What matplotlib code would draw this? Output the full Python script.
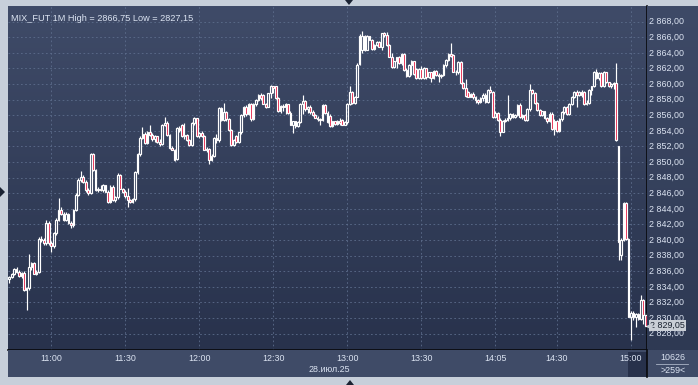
import numpy as np
import pandas as pd
import matplotlib
matplotlib.use("Agg")
import matplotlib.pyplot as plt
from matplotlib.colors import LinearSegmentedColormap
from matplotlib.patches import Polygon, Rectangle
from matplotlib.transforms import blended_transform_factory

plt.rcParams['font.family'] = ['Liberation Sans', 'DejaVu Sans']

# --- data -------------------------------------------------------------
ticker = "MIX_FUT 1M"
date_label = "28.июл.25"
volume_label = "10626"
bars_label = ">259<"
sessions = [("10:43", "13:59"), ("14:05", "15:06")]   # 14:00-14:05 clearing
tick_labels = ["11:00", "11:30", "12:00", "12:30", "13:00",
               "13:30", "14:05", "14:30", "15:00"]
price_ticks = np.arange(2828, 2869, 2)

opens = [
    2835.0, 2835.3, 2835.7, 2836.3, 2835.9, 2835.4, 2835.8, 2833.6, 2833.8, 2836.6,
    2837.0, 2835.7, 2835.9, 2840.2, 2840.0, 2839.6, 2842.2, 2839.6, 2839.2, 2840.9,
    2842.6, 2843.9, 2843.4, 2842.6, 2843.4, 2842.2, 2841.9, 2843.9, 2845.8, 2847.7,
    2848.1, 2847.5, 2846.4, 2846.0, 2851.0, 2849.0, 2846.4, 2846.6, 2846.4, 2847.0,
    2846.2, 2844.9, 2846.8, 2845.1, 2845.5, 2848.4, 2846.6, 2846.2, 2845.6, 2845.1,
    2844.9, 2845.2, 2848.7, 2851.0, 2853.1, 2853.6, 2852.4, 2853.9, 2853.5, 2853.0,
    2853.3, 2852.6, 2852.3, 2854.8, 2855.0, 2853.5, 2851.8, 2851.6, 2850.4, 2854.3,
    2854.8, 2853.3, 2853.5, 2852.8, 2852.2, 2855.0, 2855.6, 2853.3, 2853.7, 2853.4,
    2851.6, 2851.7, 2850.3, 2850.8, 2853.1, 2852.8, 2856.9, 2855.4, 2856.4, 2855.5,
    2854.1, 2852.2, 2853.4, 2852.6, 2853.8, 2856.0, 2857.1, 2856.2, 2857.5, 2855.5,
    2857.4, 2858.0, 2858.6, 2858.6, 2857.5, 2857.1, 2858.8, 2859.7, 2859.7, 2858.2,
    2856.5, 2857.2, 2857.0, 2857.4, 2856.3, 2854.8, 2855.2, 2854.6, 2855.1, 2857.5,
    2857.8, 2856.8, 2857.1, 2856.4, 2856.0, 2855.6, 2855.5, 2855.4, 2857.3, 2856.3,
    2855.9, 2854.6, 2855.2, 2854.9, 2855.3, 2855.4, 2854.8, 2855.1, 2857.5, 2859.0,
    2857.6, 2858.4, 2862.6, 2864.3, 2866.1, 2864.4, 2866.1, 2865.7, 2864.5, 2865.0,
    2865.4, 2864.8, 2866.5, 2866.3, 2865.0, 2863.5, 2862.2, 2862.9, 2863.4, 2862.7,
    2863.9, 2861.8, 2861.0, 2862.5, 2862.9, 2861.9, 2860.8, 2861.9, 2860.8, 2862.0,
    2860.9, 2861.5, 2860.8, 2861.7, 2861.1, 2861.0, 2861.2, 2862.5, 2863.1, 2863.9,
    2863.7, 2861.6, 2861.5, 2862.8, 2860.1, 2859.5, 2859.0, 2858.4, 2858.7, 2858.3,
    2858.0, 2857.7, 2858.2, 2858.6, 2857.7, 2859.2, 2859.0, 2855.8, 2856.3, 2855.4,
    2853.9, 2855.2, 2855.4, 2855.6, 2856.2, 2855.8, 2856.0, 2857.3, 2855.8, 2856.0,
    2855.4, 2856.8, 2859.2, 2858.9, 2857.6, 2856.7, 2856.0, 2856.5, 2855.6, 2855.2,
    2856.2, 2854.2, 2855.3, 2854.0, 2855.5, 2856.4, 2857.1, 2856.1, 2857.5, 2858.3,
    2859.0, 2858.6, 2859.0, 2859.0, 2857.4, 2857.6, 2859.2, 2859.7, 2861.6, 2860.8,
    2861.4, 2859.7, 2861.5, 2860.2, 2859.7, 2860.0, 2860.1, 2852.0, 2838.1, 2840.0,
    2844.7, 2840.2, 2830.2, 2830.6, 2830.2, 2830.5, 2829.9, 2832.3, 2830.4,
]
highs = [
    2835.4, 2835.8, 2836.4, 2836.5, 2836.1, 2835.9, 2836.0, 2834.0, 2838.2, 2837.2,
    2837.2, 2836.1, 2840.4, 2840.5, 2840.3, 2842.6, 2842.4, 2839.9, 2841.0, 2842.8,
    2845.4, 2844.2, 2843.6, 2843.6, 2843.5, 2842.4, 2844.0, 2846.0, 2848.0, 2848.8,
    2848.3, 2847.7, 2846.7, 2851.2, 2851.1, 2849.1, 2846.8, 2847.1, 2847.2, 2847.1,
    2846.4, 2847.0, 2847.0, 2845.7, 2848.6, 2848.5, 2846.7, 2846.4, 2846.7, 2845.3,
    2845.4, 2848.9, 2851.2, 2853.3, 2854.5, 2853.8, 2854.0, 2854.8, 2853.7, 2853.5,
    2853.4, 2852.9, 2854.9, 2855.8, 2855.2, 2853.6, 2852.0, 2851.7, 2854.5, 2854.6,
    2854.9, 2855.0, 2853.6, 2852.9, 2855.1, 2855.8, 2855.7, 2853.9, 2854.0, 2853.5,
    2851.9, 2851.8, 2851.0, 2853.2, 2853.6, 2857.0, 2857.0, 2857.6, 2856.6, 2855.6,
    2854.2, 2853.0, 2853.5, 2853.9, 2856.1, 2857.2, 2857.3, 2857.6, 2857.6, 2857.6,
    2858.1, 2858.7, 2858.8, 2858.7, 2857.6, 2858.9, 2859.9, 2859.8, 2859.8, 2858.3,
    2857.3, 2857.5, 2857.6, 2857.5, 2856.5, 2855.3, 2855.3, 2855.3, 2857.6, 2858.6,
    2857.9, 2857.2, 2857.3, 2856.7, 2856.1, 2855.9, 2855.6, 2857.4, 2857.4, 2856.5,
    2856.1, 2855.3, 2855.3, 2855.4, 2855.6, 2855.5, 2855.2, 2857.6, 2859.7, 2859.1,
    2858.5, 2862.7, 2866.4, 2866.75, 2866.3, 2866.3, 2866.2, 2865.8, 2865.1, 2865.5,
    2865.5, 2866.6, 2866.7, 2866.7, 2865.1, 2864.0, 2863.0, 2863.5, 2863.6, 2864.0,
    2864.0, 2862.0, 2862.6, 2863.1, 2863.0, 2862.1, 2862.0, 2862.3, 2862.2, 2862.1,
    2861.6, 2861.6, 2861.8, 2861.8, 2861.4, 2861.3, 2862.6, 2863.2, 2864.0, 2865.2,
    2863.9, 2861.8, 2862.9, 2862.9, 2860.3, 2860.7, 2859.1, 2858.8, 2859.0, 2858.5,
    2858.1, 2858.3, 2858.8, 2858.8, 2859.3, 2859.7, 2859.1, 2856.5, 2856.4, 2855.6,
    2855.4, 2855.6, 2858.6, 2856.3, 2856.3, 2856.1, 2857.4, 2857.6, 2856.1, 2856.1,
    2856.9, 2860.0, 2859.4, 2859.0, 2857.7, 2856.8, 2856.6, 2856.6, 2855.8, 2856.4,
    2856.4, 2855.5, 2855.4, 2855.6, 2856.5, 2857.2, 2857.2, 2857.6, 2858.5, 2859.1,
    2859.2, 2859.1, 2859.2, 2859.1, 2858.0, 2859.3, 2859.8, 2861.7, 2861.9, 2861.5,
    2861.5, 2861.7, 2861.6, 2860.3, 2860.1, 2860.2, 2862.7, 2852.1, 2840.3, 2844.9,
    2844.9, 2840.3, 2830.9, 2830.9, 2830.7, 2830.6, 2833.0, 2832.5, 2830.7,
]
lows = [
    2834.5, 2835.1, 2835.5, 2835.8, 2835.3, 2835.2, 2833.5, 2831.1, 2833.6, 2836.2,
    2835.6, 2835.5, 2835.8, 2839.8, 2839.4, 2839.4, 2839.4, 2838.5, 2839.0, 2840.7,
    2842.4, 2843.2, 2842.5, 2842.4, 2842.1, 2841.5, 2841.7, 2843.7, 2845.6, 2847.5,
    2847.3, 2846.2, 2845.8, 2845.9, 2848.9, 2846.3, 2846.2, 2846.3, 2846.2, 2846.1,
    2844.8, 2844.8, 2845.0, 2844.9, 2845.3, 2846.5, 2846.0, 2845.4, 2844.2, 2844.8,
    2844.8, 2845.0, 2848.5, 2850.8, 2852.9, 2852.3, 2852.3, 2853.4, 2852.7, 2852.6,
    2852.4, 2852.1, 2852.2, 2854.6, 2853.4, 2851.7, 2851.5, 2850.1, 2850.3, 2853.9,
    2853.2, 2853.0, 2852.7, 2852.1, 2852.0, 2854.8, 2853.2, 2853.1, 2853.2, 2851.5,
    2851.3, 2849.8, 2850.1, 2850.7, 2852.5, 2852.6, 2855.3, 2855.3, 2855.3, 2854.0,
    2852.1, 2852.1, 2852.5, 2852.5, 2853.6, 2855.8, 2855.9, 2856.0, 2855.2, 2855.4,
    2857.2, 2857.8, 2857.9, 2857.4, 2856.9, 2857.0, 2858.2, 2858.9, 2858.1, 2856.4,
    2856.3, 2856.5, 2856.2, 2856.2, 2854.7, 2853.7, 2854.4, 2854.5, 2855.0, 2856.2,
    2856.6, 2856.3, 2856.2, 2855.9, 2855.6, 2855.2, 2854.7, 2855.3, 2856.2, 2855.0,
    2854.5, 2854.5, 2854.7, 2854.8, 2854.8, 2854.7, 2854.7, 2854.9, 2857.3, 2857.5,
    2857.4, 2858.3, 2862.5, 2864.0, 2864.2, 2864.3, 2865.6, 2864.4, 2864.3, 2864.9,
    2864.7, 2864.4, 2866.0, 2864.9, 2863.4, 2862.1, 2862.0, 2862.1, 2862.6, 2862.5,
    2861.7, 2860.9, 2860.9, 2861.1, 2861.2, 2860.6, 2860.6, 2860.7, 2860.7, 2860.7,
    2860.8, 2860.3, 2860.7, 2861.0, 2860.3, 2860.8, 2861.0, 2862.2, 2862.9, 2863.4,
    2861.5, 2861.2, 2861.3, 2860.0, 2859.4, 2858.3, 2858.3, 2858.3, 2858.1, 2857.6,
    2857.5, 2857.6, 2857.8, 2857.6, 2857.6, 2858.9, 2855.7, 2855.6, 2855.3, 2853.3,
    2853.8, 2855.1, 2855.3, 2855.4, 2855.6, 2855.7, 2855.9, 2855.7, 2855.5, 2855.3,
    2855.3, 2856.6, 2858.7, 2857.5, 2856.6, 2855.9, 2855.9, 2855.5, 2855.0, 2855.1,
    2854.1, 2853.5, 2853.9, 2853.9, 2855.3, 2856.2, 2856.0, 2856.0, 2857.3, 2858.2,
    2857.1, 2858.5, 2858.4, 2857.3, 2857.3, 2857.4, 2858.6, 2859.6, 2860.7, 2860.5,
    2859.6, 2859.6, 2860.1, 2859.6, 2859.5, 2859.4, 2852.7, 2837.4, 2837.4, 2839.9,
    2840.0, 2830.1, 2827.15, 2829.8, 2828.9, 2829.8, 2829.8, 2829.2, 2828.8,
]
closes = [
    2835.3, 2835.7, 2836.3, 2835.9, 2835.4, 2835.8, 2833.6, 2833.8, 2836.6, 2837.0,
    2835.7, 2835.9, 2840.2, 2840.0, 2839.6, 2842.2, 2839.6, 2839.2, 2840.9, 2842.6,
    2843.9, 2843.4, 2842.6, 2843.4, 2842.2, 2841.9, 2843.9, 2845.8, 2847.7, 2848.1,
    2847.5, 2846.4, 2846.0, 2851.0, 2849.0, 2846.4, 2846.6, 2846.4, 2847.0, 2846.2,
    2844.9, 2846.8, 2845.1, 2845.5, 2848.4, 2846.6, 2846.2, 2845.6, 2845.1, 2844.9,
    2845.2, 2848.7, 2851.0, 2853.1, 2853.6, 2852.4, 2853.9, 2853.5, 2853.0, 2853.3,
    2852.6, 2852.3, 2854.8, 2855.0, 2853.5, 2851.8, 2851.6, 2850.3, 2854.3, 2854.1,
    2853.3, 2853.5, 2852.8, 2852.2, 2855.0, 2855.6, 2853.3, 2853.7, 2853.4, 2851.6,
    2851.7, 2850.3, 2850.8, 2853.1, 2852.8, 2856.9, 2855.4, 2856.4, 2855.5, 2854.1,
    2852.2, 2852.8, 2852.6, 2853.8, 2856.0, 2857.1, 2856.2, 2857.5, 2855.5, 2857.4,
    2858.0, 2858.6, 2858.2, 2857.5, 2857.1, 2858.8, 2859.7, 2859.5, 2858.2, 2856.5,
    2857.2, 2857.0, 2857.4, 2856.3, 2854.8, 2855.2, 2854.6, 2855.1, 2857.5, 2857.8,
    2856.8, 2857.1, 2856.4, 2856.0, 2855.7, 2855.5, 2855.4, 2857.3, 2856.3, 2855.1,
    2854.6, 2855.2, 2854.9, 2855.3, 2855.0, 2854.8, 2855.1, 2857.5, 2859.0, 2857.6,
    2858.4, 2862.5, 2866.2, 2866.1, 2864.4, 2866.1, 2865.7, 2864.5, 2865.0, 2865.4,
    2864.8, 2866.5, 2866.3, 2865.0, 2863.5, 2862.2, 2862.9, 2863.4, 2862.7, 2863.9,
    2861.8, 2861.0, 2862.5, 2862.9, 2861.3, 2860.8, 2861.9, 2860.8, 2862.0, 2860.9,
    2861.5, 2860.8, 2861.7, 2861.1, 2861.0, 2861.2, 2862.5, 2863.1, 2863.9, 2863.6,
    2861.6, 2861.5, 2862.8, 2860.1, 2859.5, 2858.5, 2858.4, 2858.7, 2858.3, 2858.0,
    2857.7, 2858.2, 2858.6, 2857.7, 2859.2, 2859.0, 2855.8, 2856.3, 2855.4, 2853.9,
    2855.2, 2855.4, 2855.6, 2856.2, 2855.8, 2856.0, 2857.3, 2855.8, 2856.0, 2855.4,
    2856.8, 2859.2, 2858.9, 2857.6, 2856.7, 2856.0, 2856.5, 2855.6, 2855.2, 2856.2,
    2854.2, 2855.2, 2854.0, 2855.5, 2856.4, 2857.0, 2856.1, 2857.5, 2858.3, 2859.0,
    2858.6, 2859.0, 2858.6, 2857.4, 2857.6, 2859.2, 2859.7, 2861.6, 2860.8, 2861.4,
    2859.7, 2861.5, 2860.2, 2859.7, 2860.0, 2860.1, 2852.8, 2839.8, 2840.0, 2844.7,
    2840.2, 2830.2, 2830.6, 2830.2, 2830.5, 2829.9, 2832.3, 2830.4, 2829.05,
]

# --- helpers ----------------------------------------------------------
W, H = 698, 385
BG_TOP, BG_BOT = '#3f4b68', '#28324c'
TXT = '#dce4f2'
RED = '#e3173f'


def box(x0, y0, x1, y1):
    return [x0 / W, 1 - y1 / H, (x1 - x0) / W, (y1 - y0) / H]


def fmt(v):
    return f"{v:,.2f}".replace(",", " ").replace(".", ",")


def plain(v):
    return f"{v:.2f}".replace(".", ",")


times = []
for a, b in sessions:
    times += list(pd.date_range("2025-07-28 " + a, "2025-07-28 " + b,
                                freq="1min").strftime("%H:%M"))
tick_idx = [times.index(t) for t in tick_labels]

o = np.array(opens)
h = np.array(highs)
l = np.array(lows)
c = np.array(closes)
idx = np.arange(len(c))
top = np.maximum(o, c)
bot = np.minimum(o, c)
up = c >= o

fig = plt.figure(figsize=(W / 100, H / 100), dpi=100, facecolor='#c7cfda')

ax = fig.add_axes(box(8, 6, 647, 350))
axr = fig.add_axes(box(647, 6, 698, 350))
axb = fig.add_axes(box(8, 350, 647, 377))
axc = fig.add_axes(box(647, 350, 698, 377))

ylim = (2825.91, 2870.0)
xlim = (-0.5, len(c) - 0.5)

grad = np.linspace(0, 1, 256).reshape(-1, 1)
for a_, cols in ((ax, (BG_TOP, BG_BOT)), (axr, ('#3e4a67', '#2e3953'))):
    a_.imshow(grad, cmap=LinearSegmentedColormap.from_list('g', cols),
              extent=[0, 1, 0, 1], transform=a_.transAxes, aspect='auto',
              zorder=0, interpolation='bilinear')

# grid
ax.set_yticks(price_ticks)
ax.set_xticks(tick_idx)
ax.grid(True, color='#5d6d8c', linestyle=(0, (2, 3)), linewidth=0.6, zorder=1)
ax.tick_params(length=0, labelleft=False, labelbottom=False)

# candles
ax.vlines(idx, top, h, color='white', linewidth=0.85, zorder=2)
ax.vlines(idx, l, bot, color='white', linewidth=0.85, zorder=2)
ax.bar(idx[up], (top - bot)[up], bottom=bot[up], width=0.7,
       facecolor='none', edgecolor='white', linewidth=0.85, zorder=3)
ax.bar(idx[~up], (top - bot)[~up], bottom=bot[~up], width=0.7,
       facecolor=RED, edgecolor='white', linewidth=0.85, zorder=3)

ax.set_xlim(xlim)
ax.set_ylim(ylim)
for s in ('top', 'left'):
    ax.spines[s].set_visible(False)
for s in ('bottom', 'right'):
    ax.spines[s].set_color('#08090c')
    ax.spines[s].set_linewidth(1.2)

ax.text(0.004, 0.978,
        f"{ticker} High = {plain(max(highs))} Low = {plain(min(lows))}",
        transform=ax.transAxes, ha='left', va='top', color=TXT, fontsize=6.6)

# right price scale
axr.set_ylim(ylim)
axr.set_xlim(0, 1)
axr.set_xticks([])
axr.set_yticks([])
for s in axr.spines.values():
    s.set_visible(False)
tr = blended_transform_factory(axr.transAxes, axr.transData)
for v in price_ticks:
    axr.text(0.04, v, fmt(v), transform=tr, ha='left', va='center',
             color=TXT, fontsize=6.4)
last = closes[-1]
axr.text(0.06, last, fmt(last), transform=tr, ha='left', va='center',
         color='#18202e', fontsize=6.4, zorder=5,
         bbox=dict(boxstyle='square,pad=0.12', fc='#c9ced6', ec='none'))
axr.plot([0.03], [last], marker='<', ms=3.5, color='#c9ced6',
         transform=tr, clip_on=False, zorder=6)

# bottom time scale
axb.set_facecolor('#3f4b67')
axb.set_xlim(xlim)
axb.set_ylim(0, 1)
axb.set_xticks([])
axb.set_yticks([])
for s in axb.spines.values():
    s.set_visible(False)
axb.add_patch(Rectangle((tick_idx[-1] - 1.0, 0), len(c) - tick_idx[-1] + 0.5, 0.93,
                        facecolor='#27314b', edgecolor='none', zorder=0))
for i, t in zip(tick_idx, tick_labels):
    axb.text(i, 0.70, t, ha='center', va='center', color=TXT, fontsize=6.4)
fig.text(329 / W, 1 - 369 / H, date_label, ha='center', va='center',
         color=TXT, fontsize=6.4)

# bottom-right box
axc.set_facecolor('#3f4b67')
axc.set_xlim(0, 1)
axc.set_ylim(0, 1)
axc.set_xticks([])
axc.set_yticks([])
for s in axc.spines.values():
    s.set_visible(False)
axc.spines['left'].set_visible(True)
axc.spines['left'].set_color('#08090c')
axc.spines['left'].set_linewidth(1.2)
axc.text(0.51, 0.74, volume_label, ha='center', va='center', color=TXT, fontsize=6.4)
axc.plot([0.18, 0.80], [0.48, 0.48], color='#aab4c6', linewidth=0.6)
axc.text(0.51, 0.24, bars_label, ha='center', va='center', color=TXT, fontsize=6.4)


# small pointer triangles on the frame
def px(x, y):
    return (x / W, 1 - y / H)


for pts in (((345, 0), (353, 0), (349, 5)),
            ((0, 187), (0, 197), (5, 192)),
            ((346, 385), (354, 385), (350, 380))):
    fig.add_artist(Polygon([px(*p) for p in pts], closed=True,
                           transform=fig.transFigure, facecolor='#1b2333',
                           edgecolor='none'))

fig.savefig("out.png", dpi=100, facecolor=fig.get_facecolor())
